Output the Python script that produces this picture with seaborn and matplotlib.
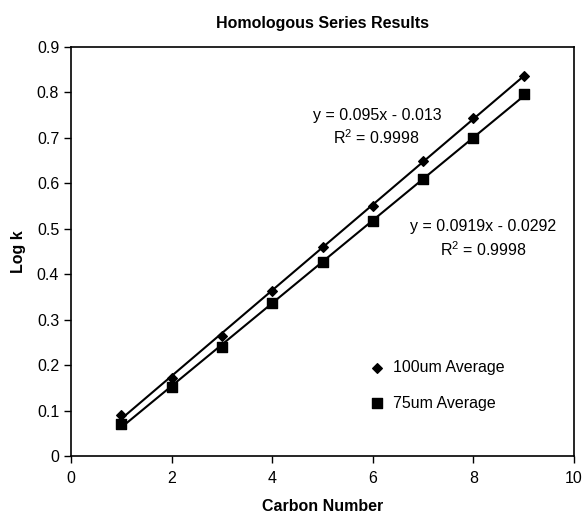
import numpy as np
import pandas as pd
import matplotlib.pyplot as plt
import seaborn as sns

carbon = [1, 2, 3, 4, 5, 6, 7, 8, 9]
logk_100 = [0.090, 0.172, 0.265, 0.363, 0.460, 0.551, 0.649, 0.743, 0.837]
logk_75 = [0.070, 0.152, 0.240, 0.336, 0.426, 0.517, 0.610, 0.700, 0.796]

eq_100 = ["y = 0.095x - 0.013", "R$^2$ = 0.9998"]
eq_75 = ["y = 0.0919x - 0.0292", "R$^2$ = 0.9998"]

sns.set_theme(style="ticks")
plt.rcParams["font.family"] = ["Liberation Sans", "DejaVu Sans"]
plt.rcParams["mathtext.fontset"] = "custom"
plt.rcParams["mathtext.rm"] = "Liberation Sans"
plt.rcParams["text.color"] = "black"
plt.rcParams["axes.labelcolor"] = "black"
plt.rcParams["xtick.color"] = "black"
plt.rcParams["ytick.color"] = "black"

df = pd.DataFrame({"carbon": carbon, "100um": logk_100, "75um": logk_75})

fig = plt.figure(figsize=(5.83, 5.15), dpi=100)
ax = fig.add_axes([0.1218, 0.1146, 0.8628, 0.7941])

sns.regplot(data=df, x="carbon", y="100um", ci=None, ax=ax,
            marker="D", color="black", scatter_kws={"s": 24, "alpha": 1},
            line_kws={"lw": 1.5})
sns.regplot(data=df, x="carbon", y="75um", ci=None, ax=ax,
            marker="s", color="black", scatter_kws={"s": 50, "alpha": 1},
            line_kws={"lw": 1.5})

# legend handles
h1 = ax.scatter([], [], marker="D", s=24, color="black", label="100um Average")
h2 = ax.scatter([], [], marker="s", s=50, color="black", label="75um Average")
ax.legend(handles=[h1, h2], frameon=False, loc="center left",
          bbox_to_anchor=(0.563, 0.173), fontsize=11.5, labelspacing=1.3,
          handletextpad=0.5, handlelength=1.0)

ax.text(6.08, 0.750, eq_100[0], ha="center", va="center", fontsize=11.5)
ax.text(6.08, 0.700, eq_100[1], ha="center", va="center", fontsize=11.5)
ax.text(8.2, 0.505, eq_75[0], ha="center", va="center", fontsize=11.5)
ax.text(8.2, 0.455, eq_75[1], ha="center", va="center", fontsize=11.5)

ax.set_xlim(0, 10)
ax.set_ylim(0, 0.9)
ax.set_xticks([0, 2, 4, 6, 8, 10])
ax.set_yticks(np.arange(0, 0.91, 0.1))
ax.set_yticklabels(["0", "0.1", "0.2", "0.3", "0.4", "0.5", "0.6", "0.7", "0.8", "0.9"])
ax.tick_params(labelsize=11.5, length=5, width=1, color="black")
ax.tick_params(axis="x", pad=6)
for s in ax.spines.values():
    s.set_color("black")
    s.set_linewidth(1.2)

ax.set_xlabel("Carbon Number", fontsize=11.5, fontweight="bold", labelpad=9)
ax.set_ylabel("Log k", fontsize=11.5, fontweight="bold", labelpad=8)
ax.set_title("Homologous Series Results", fontsize=11.5, fontweight="bold", pad=14)

plt.savefig("out.png", dpi=100)
